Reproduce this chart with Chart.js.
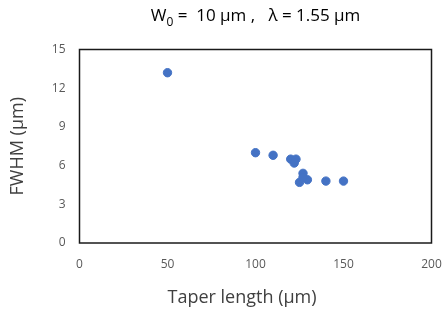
<!DOCTYPE html>
<html>
<head>
<meta charset="utf-8">
<script src="https://cdn.jsdelivr.net/npm/chart.js@4.4.0/dist/chart.umd.min.js"></script>
<style>
  html, body { margin: 0; padding: 0; background: #fff; }
  #wrap { width: 444px; height: 313px; }
</style>
</head>
<body>
<div id="wrap"><canvas id="chart" width="444" height="313"></canvas></div>
<script>
// taper length (um) vs FWHM (um)
const taperLength = [50, 100, 110, 120, 123, 122, 127, 125, 129.5, 127, 140, 150];
const fwhm = [13.2, 7.0, 6.8, 6.5, 6.5, 6.2, 5.4, 4.7, 4.9, 5.1, 4.8, 4.8];
const xTicks = [0, 50, 100, 150, 200];
const yTicks = [0, 3, 6, 9, 12, 15];

const points = taperLength.map((x, i) => ({ x: x, y: fwhm[i] }));

const FONT = "'Open Sans', 'DejaVu Sans', sans-serif";

// frame around the plot area, chart title and x axis title
const extras = {
    id: 'extras',
    afterDraw(chart) {
        const ctx = chart.ctx;
        const a = chart.chartArea;
        ctx.save();
        ctx.strokeStyle = '#1a1a1a';
        ctx.lineWidth = 1.5;
        ctx.strokeRect(a.left, a.top, a.right - a.left, a.bottom - a.top);

        // title: W0 = 10 um , lambda = 1.55 um
        ctx.fillStyle = '#000';
        ctx.textBaseline = 'alphabetic';
        ctx.textAlign = 'left';
        const big = '17px ' + FONT;
        const small = '12px ' + FONT;
        const rest = ' =  10 μm ,   λ = 1.55 μm';
        ctx.font = big;
        const wW = ctx.measureText('W').width;
        const wRest = ctx.measureText(rest).width;
        ctx.font = small;
        const w0 = ctx.measureText('0').width;
        const total = wW + w0 + wRest;
        let x = (a.left + a.right) / 2 - total / 2;
        ctx.font = big;
        ctx.fillText('W', x, 21);
        x += wW;
        ctx.font = small;
        ctx.fillText('0', x, 26);
        x += w0;
        ctx.font = big;
        ctx.fillText(rest, x, 21);

        // x axis title
        ctx.font = '18px ' + FONT;
        ctx.fillStyle = '#404040';
        ctx.textAlign = 'center';
        ctx.fillText('Taper length (μm)', 242, 303);
        ctx.restore();
    }
};

new Chart(document.getElementById('chart'), {
    type: 'scatter',
    data: {
        datasets: [{
            data: points,
            backgroundColor: '#4472C4',
            borderColor: '#4472C4',
            pointRadius: 4.2,
            pointHoverRadius: 4.2
        }]
    },
    options: {
        responsive: false,
        animation: false,
        layout: { padding: { left: 0, right: 12.5, top: 49.5, bottom: 0 } },
        plugins: {
            legend: { display: false },
            tooltip: { enabled: false }
        },
        scales: {
            x: {
                type: 'linear',
                min: 0,
                max: 200,
                afterBuildTicks: (s) => { s.ticks = xTicks.map(v => ({ value: v })); },
                afterFit: (s) => { s.height = 70; s.paddingRight = 0; s.paddingLeft = 0; },
                grid: { display: false, drawTicks: false },
                border: { display: false },
                ticks: { color: '#595959', font: { size: 12, family: FONT }, padding: 14, maxRotation: 0 }
            },
            y: {
                min: 0,
                max: 15,
                afterBuildTicks: (s) => { s.ticks = yTicks.map(v => ({ value: v })); },
                afterFit: (s) => { s.width = 79.5; },
                grid: { display: false, drawTicks: false },
                border: { display: false },
                ticks: { color: '#595959', font: { size: 12, family: FONT }, padding: 14 },
                title: {
                    display: true,
                    text: 'FWHM (μm)',
                    color: '#404040',
                    font: { size: 18, family: FONT },
                    padding: { top: 7, bottom: 0 }
                }
            }
        }
    },
    plugins: [extras]
});
</script>
</body>
</html>
